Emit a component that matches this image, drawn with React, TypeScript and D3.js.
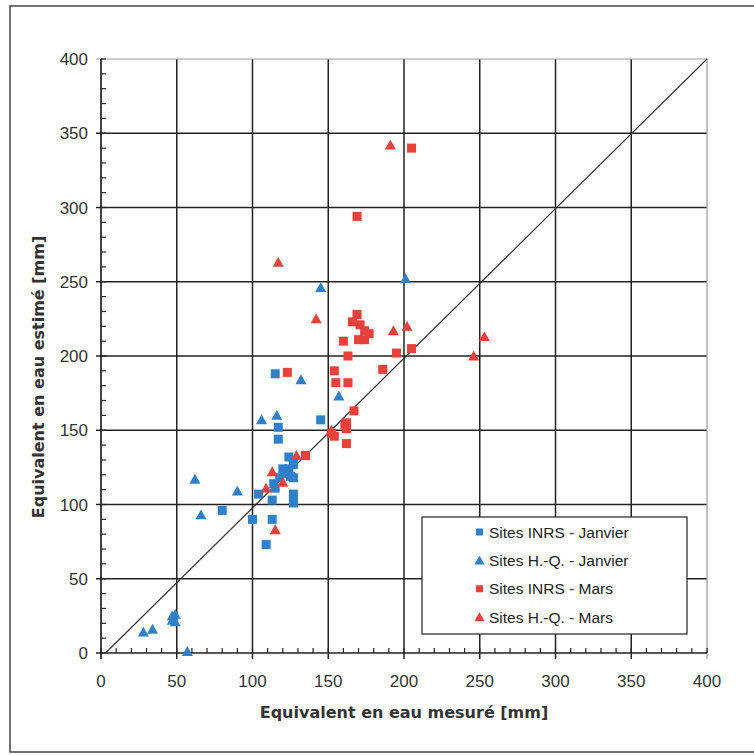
import React from "react";
import * as d3 from "d3";

const inrsJanX = [115, 117, 117, 145, 124, 120, 124, 127, 104, 114, 115, 125, 127, 127, 127, 127, 113, 80, 100, 113, 109, 118, 121];
const inrsJanY = [188, 152, 144, 157, 132, 124, 124, 127, 107, 114, 111, 119, 118, 107, 104, 101, 103, 96, 90, 90, 73, 118, 121];

const hqJanX = [132, 106, 116, 62, 90, 66, 157, 145, 201, 28, 34, 47, 49, 47, 49, 57];
const hqJanY = [184, 157, 160, 117, 109, 93, 173, 246, 252, 14, 16, 25, 26, 22, 21, 1];

const inrsMarsX = [123, 135, 205, 169, 169, 166, 171, 174, 177, 170, 174, 160, 163, 195, 205, 186, 154, 155, 163, 167, 162, 161, 162, 152, 154, 162];
const inrsMarsY = [189, 133, 340, 294, 228, 223, 221, 217, 215, 211, 211, 210, 200, 202, 205, 191, 190, 182, 182, 163, 155, 154, 151, 148, 146, 141];

const hqMarsX = [191, 117, 142, 193, 202, 253, 246, 129, 113, 109, 120, 115, 152];
const hqMarsY = [342, 263, 225, 217, 220, 213, 200, 133, 122, 111, 115, 83, 150];

const majorTicks = [0, 50, 100, 150, 200, 250, 300, 350, 400];
const minorTicks = d3.range(0, 401, 10);
const refLineX = [3, 400];
const refLineY = [0, 400];

const legendLabels = ["Sites INRS - Janvier", "Sites H.-Q. - Janvier", "Sites INRS - Mars", "Sites H.-Q. - Mars"];
const BLUE = "#2f80c9";
const RED = "#e8403a";

const FONT = "'Liberation Sans', Arial, sans-serif";
const TITLE_FONT = "'DejaVu Sans', Verdana, sans-serif";

function Marker({ kind, x, y, color }: { kind: string; x: number; y: number; color: string }) {
  if (kind === "square") {
    return <rect x={x - 4.5} y={y - 4.5} width={9} height={9} fill={color} />;
  }
  const s = 5.5;
  return <path d={`M${x},${y - s}L${x + s},${y + s * 0.8}L${x - s},${y + s * 0.8}Z`} fill={color} />;
}

export default function App() {
  const x = d3.scaleLinear().domain([0, 400]).range([101, 707]);
  const y = d3.scaleLinear().domain([0, 400]).range([653, 59]);
  const series = [
    { xs: inrsJanX, ys: inrsJanY, kind: "square", color: BLUE },
    { xs: hqJanX, ys: hqJanY, kind: "tri", color: BLUE },
    { xs: inrsMarsX, ys: inrsMarsY, kind: "square", color: RED },
    { xs: hqMarsX, ys: hqMarsY, kind: "tri", color: RED },
  ];
  const line = d3.line<number>().x((_, i) => x(refLineX[i])).y((_, i) => y(refLineY[i]));
  const grid = "#222";
  return (
    <svg width={754} height={755} style={{ position: "absolute", left: 0, top: 0, background: "#fff" }} fontFamily={FONT}>
      <rect x={0} y={0} width={754} height={755} fill="#fff" />
      <rect x={10} y={6} width={760} height={746} fill="#fff" stroke="#444" strokeWidth={1.5} />
      {/* grid */}
      {majorTicks.slice(1, -1).map((t) => (
        <line key={"gx" + t} x1={x(t)} x2={x(t)} y1={y(0) + 6} y2={y(400)} stroke={grid} strokeWidth={1.5} />
      ))}
      {majorTicks.slice(1, -1).map((t) => (
        <line key={"gy" + t} x1={x(0) - 5} x2={x(400)} y1={y(t)} y2={y(t)} stroke={grid} strokeWidth={1.5} />
      ))}
      <line x1={x(0) - 5} x2={x(400)} y1={y(400)} y2={y(400)} stroke="#999" strokeWidth={1.2} />
      <line x1={x(400)} x2={x(400)} y1={y(400)} y2={y(0) + 6} stroke="#999" strokeWidth={1.2} />
      {/* axes */}
      <line x1={x(0)} x2={x(0)} y1={y(0) + 6} y2={y(400)} stroke={grid} strokeWidth={1.7} />
      <line x1={x(0) - 5} x2={x(400)} y1={y(0)} y2={y(0)} stroke={grid} strokeWidth={1.7} />
      {minorTicks.map((t) => (
        <g key={"mt" + t}>
          <line x1={x(0)} x2={x(0) + 5} y1={y(t)} y2={y(t)} stroke={grid} strokeWidth={1.2} />
          <line x1={x(t)} x2={x(t)} y1={y(0)} y2={y(0) - 5} stroke={grid} strokeWidth={1.2} />
        </g>
      ))}
      {/* reference line */}
      <path d={line([0, 1]) || ""} stroke="#333" strokeWidth={1.2} fill="none" />
      {/* points */}
      {series.map((s, si) =>
        s.xs.map((v, i) => <Marker key={si + "-" + i} kind={s.kind} x={x(v)} y={y(s.ys[i])} color={s.color} />)
      )}
      {/* tick labels */}
      {majorTicks.map((t) => (
        <text key={"xl" + t} x={x(t)} y={687} textAnchor="middle" fontSize={17} fill="#333">
          {t}
        </text>
      ))}
      {majorTicks.map((t) => (
        <text key={"yl" + t} x={88} y={y(t)} dy="0.36em" textAnchor="end" fontSize={17} fill="#333">
          {t}
        </text>
      ))}
      {/* titles */}
      <text x={404} y={718} textAnchor="middle" fontSize={16} fontWeight="bold" fill="#333" fontFamily={TITLE_FONT}>
        Equivalent en eau mesuré [mm]
      </text>
      <text
        transform="translate(44,377) rotate(-90)"
        textAnchor="middle"
        fontSize={16}
        fontWeight="bold"
        fill="#333"
        fontFamily={TITLE_FONT}
      >
        Equivalent en eau estimé [mm]
      </text>
      {/* legend */}
      <rect x={422} y={517} width={265} height={117} fill="#fff" stroke="#333" strokeWidth={1.3} />
      {legendLabels.map((lab, i) => {
        const cy = 532 + i * 28.4;
        const s = series[i];
        return (
          <g key={lab}>
            {s.kind === "square" ? (
              <rect x={476} y={cy - 3.5} width={7} height={7} fill={s.color} />
            ) : (
              <path d={`M479.5,${cy - 5}L484.5,${cy + 4}L474.5,${cy + 4}Z`} fill={s.color} />
            )}
            <text x={489} y={cy} dy="0.36em" fontSize={15.5} fill="#222">
              {lab}
            </text>
          </g>
        );
      })}
    </svg>
  );
}
